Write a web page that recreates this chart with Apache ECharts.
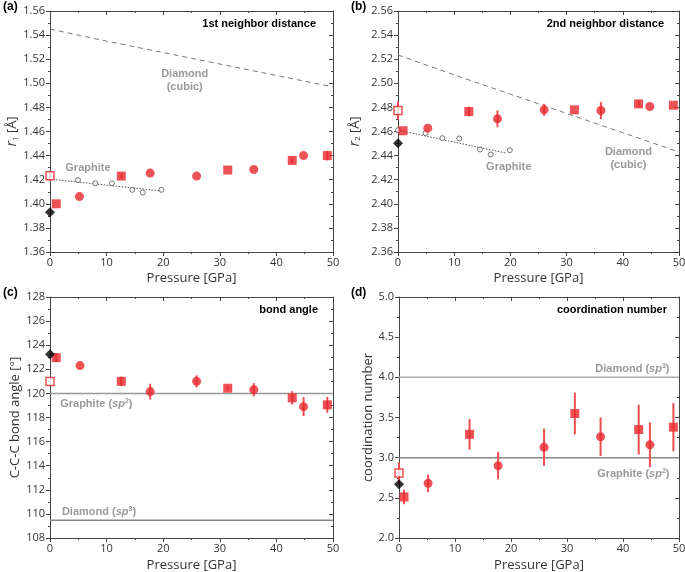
<!DOCTYPE html>
<html>
<head>
<meta charset="utf-8">
<script src="https://cdn.jsdelivr.net/npm/echarts@6/dist/echarts.min.js"></script>
<style>
  html, body { margin: 0; padding: 0; background: #fff; }
  #main { width: 685px; height: 572px; }
</style>
</head>
<body>
<div id="main"></div>
<script>
// ---- data ----
// (a) 1st neighbor distance r1 [A]
var r1Squares = [[1.1, 1.400], [12.6, 1.423], [31.4, 1.428], [42.8, 1.436], [49, 1.440]];
var r1SquaresErr = [0, 0.002, 0, 0.002, 0.004];
var r1Circles = [[5.2, 1.406], [17.7, 1.4255], [25.9, 1.423], [36, 1.4285], [44.8, 1.440]];
var r1CirclesErr = [0, 0, 0, 0, 0];
var r1Open = [[0, 1.4233]];
var r1OpenErr = [0.004];
var r1Diamond = [[0, 1.393]];
var r1Graphite = [[4.95, 1.4197], [8.0, 1.417], [10.95, 1.417], [14.55, 1.4116], [16.4, 1.4094], [19.7, 1.4116]];
var r1GraphiteFit = [[0, 1.4205], [20, 1.4105]];
var r1DiamondLine = [[0, 1.545], [10, 1.535], [20, 1.5255], [30, 1.516], [40, 1.5065], [50, 1.497]];

// (b) 2nd neighbor distance r2 [A]
var r2Squares = [[0.9, 2.4606], [12.6, 2.4766], [31.4, 2.478], [42.8, 2.4829], [49, 2.4818]];
var r2SquaresErr = [0, 0.004, 0, 0.003, 0];
var r2Circles = [[5.3, 2.4628], [17.7, 2.4705], [26, 2.478], [36.1, 2.4774], [44.8, 2.4807]];
var r2CirclesErr = [0, 0.007, 0.005, 0.007, 0];
var r2Open = [[0, 2.4774]];
var r2OpenErr = [0.0075];
var r2Diamond = [[0, 2.4503]];
var r2Graphite = [[0, 2.4611], [4.9, 2.4586], [7.9, 2.4545], [10.9, 2.4542], [14.6, 2.4451], [16.5, 2.4409], [19.9, 2.4445]];
var r2GraphiteFit = [[0, 2.4611], [19.3, 2.442]];
var r2DiamondLine = [[0, 2.5235], [10, 2.507], [20, 2.491], [30, 2.475], [40, 2.459], [50, 2.443]];

// (c) C-C-C bond angle [deg]
var angSquares = [[1.1, 122.97], [12.6, 121.0], [31.4, 120.43], [42.8, 119.63], [49, 119.05]];
var angSquaresErr = [0.37, 0.4, 0.15, 0.55, 0.65];
var angCircles = [[5.3, 122.31], [17.7, 120.15], [25.9, 121.0], [36, 120.3], [44.8, 118.9]];
var angCirclesErr = [0, 0.65, 0.5, 0.55, 0.78];
var angOpen = [[0, 120.98]];
var angOpenErr = [0];
var angDiamond = [[0, 123.25]];
var angGraphiteRef = 120;
var angDiamondRef = 109.47;

// (d) coordination number
var cnSquares = [[0.9, 2.51], [12.6, 3.29], [31.4, 3.55], [42.8, 3.35], [49, 3.38]];
var cnSquaresErr = [0.09, 0.19, 0.26, 0.31, 0.30];
var cnCircles = [[5.2, 2.68], [17.7, 2.90], [25.9, 3.13], [36, 3.26], [44.8, 3.16]];
var cnCirclesErr = [0.11, 0.17, 0.23, 0.24, 0.28];
var cnOpen = [[0, 2.81]];
var cnOpenErr = [0.13];
var cnDiamond = [[0, 2.67]];
var cnDiamondRef = 4.0;
var cnGraphiteRef = 3.0;

var pressureRange = [0, 50, 10];
var yRanges = [[1.36, 1.56, 0.02, 2], [2.36, 2.56, 0.02, 2], [108, 128, 2, 0], [2.0, 5.0, 0.5, 1]];
var panelTitles = ['1st neighbor distance', '2nd neighbor distance', 'bond angle', 'coordination number'];
var panelLetters = ['(a)', '(b)', '(c)', '(d)'];

// ---- styling ----
var RED = '#e8282c';
var ERR = '#ee4c50';
var GREY = '#808080';
var AXIS = '#444';
var TXT = '#333';
var FONT = '"Open Sans", "DejaVu Sans", sans-serif';
var BOLD = '"Liberation Sans", Arial, sans-serif';

var richText = {
  b: { fontFamily: BOLD, fontWeight: 'bold', fontSize: 11, color: GREY, lineHeight: 13 },
  i: { fontFamily: BOLD, fontWeight: 'bold', fontStyle: 'italic', fontSize: 11, color: GREY, lineHeight: 13 },
  sup: { fontFamily: BOLD, fontWeight: 'bold', fontSize: 7, color: GREY, lineHeight: 7, verticalAlign: 'top' }
};

var grids = [
  { left: 50, top: 11, width: 283, height: 241, outerBoundsMode: 'none' },
  { left: 398, top: 11, width: 281, height: 241, outerBoundsMode: 'none' },
  { left: 50, top: 297, width: 283, height: 241, outerBoundsMode: 'none' },
  { left: 399, top: 297, width: 280, height: 241, outerBoundsMode: 'none' }
];
var yNames = [
  '{it|r}{sub|1} [Å]',
  '{it|r}{sub|2} [Å]',
  'C-C-C bond angle [°]',
  'coordination number'
];
var yNameGaps = [29, 36, 27, 24];
var xNameGaps = [20, 20, 21, 21];

var xAxes = [], yAxes = [], series = [];

grids.forEach(function (g, i) {
  var yr = yRanges[i];
  xAxes.push({
    type: 'value', gridIndex: i, min: pressureRange[0], max: pressureRange[1], interval: pressureRange[2],
    name: 'Pressure [GPa]', nameLocation: 'middle', nameGap: xNameGaps[i],
    nameTextStyle: { fontFamily: FONT, fontSize: 13, color: TXT },
    axisLine: { onZero: false, lineStyle: { color: AXIS, width: 1 } },
    axisTick: { length: 4, lineStyle: { color: AXIS } },
    minorTick: { show: true, splitNumber: 2, length: 2, lineStyle: { color: AXIS } },
    splitLine: { show: false },
    axisLabel: { fontFamily: FONT, fontSize: 11, color: TXT, margin: 5 }
  });
  xAxes.push({
    type: 'value', gridIndex: i, position: 'top', min: pressureRange[0], max: pressureRange[1], interval: pressureRange[2],
    axisLine: { onZero: false, lineStyle: { color: AXIS, width: 1 } },
    axisTick: { inside: true, length: 4, lineStyle: { color: AXIS } },
    minorTick: { show: true, splitNumber: 2, length: 2, lineStyle: { color: AXIS } },
    splitLine: { show: false }, axisLabel: { show: false }
  });
  yAxes.push({
    type: 'value', gridIndex: i, min: yr[0], max: yr[1], interval: yr[2],
    name: yNames[i], nameLocation: 'middle', nameGap: yNameGaps[i],
    nameTextStyle: {
      fontFamily: FONT, fontSize: 13, color: TXT,
      rich: {
        it: { fontFamily: FONT, fontSize: 14, fontStyle: 'italic', color: TXT },
        sub: { fontFamily: FONT, fontSize: 8, color: TXT, verticalAlign: 'bottom', lineHeight: 9 }
      }
    },
    axisLine: { onZero: false, lineStyle: { color: AXIS, width: 1 } },
    axisTick: { length: 4, lineStyle: { color: AXIS } },
    minorTick: { show: true, splitNumber: 2, length: 2, lineStyle: { color: AXIS } },
    splitLine: { show: false },
    axisLabel: {
      fontFamily: FONT, fontSize: 11, color: TXT, margin: 5,
      formatter: (function (d) { return function (v) { return v.toFixed(d); }; })(yr[3])
    }
  });
  yAxes.push({
    type: 'value', gridIndex: i, position: 'right', min: yr[0], max: yr[1], interval: yr[2],
    axisLine: { onZero: false, lineStyle: { color: AXIS, width: 1 } },
    axisTick: { inside: true, length: 4, lineStyle: { color: AXIS } },
    minorTick: { show: true, splitNumber: 2, length: 2, lineStyle: { color: AXIS } },
    splitLine: { show: false }, axisLabel: { show: false }
  });
});

function withErr(points, errs) {
  return points.map(function (p, k) { return [p[0], p[1] - errs[k], p[1] + errs[k]]; })
    .filter(function (p) { return p[2] > p[1]; });
}

function errSeries(i, data) {
  return {
    type: 'custom', xAxisIndex: 2 * i, yAxisIndex: 2 * i, z: 3, silent: true,
    encode: { x: 0, y: [1, 2] },
    renderItem: function (params, api) {
      var x = api.value(0);
      var lo = api.coord([x, api.value(1)]);
      var hi = api.coord([x, api.value(2)]);
      return { type: 'line', shape: { x1: lo[0], y1: lo[1], x2: hi[0], y2: hi[1] }, style: { stroke: ERR, lineWidth: 2 } };
    },
    data: data
  };
}

function scatter(i, data, symbol, size, style, z) {
  return {
    type: 'scatter', xAxisIndex: 2 * i, yAxisIndex: 2 * i, symbol: symbol, symbolSize: size,
    itemStyle: style, z: z, silent: true, data: data
  };
}

function refLine(i, data, type, color, width) {
  return {
    type: 'line', xAxisIndex: 2 * i, yAxisIndex: 2 * i, symbol: 'none', silent: true, z: 1,
    lineStyle: { type: type, color: color, width: width }, data: data
  };
}

function hLine(i, v, color) {
  return refLine(i, [[pressureRange[0], v], [pressureRange[1], v]], 'solid', color, 1.5);
}

function note(i, x, y, text, align) {
  return {
    type: 'scatter', xAxisIndex: 2 * i, yAxisIndex: 2 * i, symbolSize: 0, silent: true, z: 2,
    itemStyle: { color: 'transparent' },
    label: {
      show: true, position: 'inside', align: align, verticalAlign: 'middle',
      formatter: text, rich: richText, lineHeight: 13
    },
    data: [[x, y]]
  };
}

function markers(i, sq, sqErr, ci, ciErr, open, openErr, dia) {
  series.push(errSeries(i, withErr(open, openErr)));
  series.push(errSeries(i, withErr(sq, sqErr)));
  series.push(errSeries(i, withErr(ci, ciErr)));
  series.push(scatter(i, sq, 'rect', 9, { color: RED }, 4));
  series.push(scatter(i, ci, 'circle', 9, { color: RED }, 4));
  series.push(scatter(i, open, 'rect', 8, { color: '#fff', borderColor: RED, borderWidth: 1.5 }, 5));
  series.push(scatter(i, dia, 'diamond', 10, { color: '#000' }, 6));
}

// (a)
series.push(refLine(0, r1DiamondLine, [5, 4], '#777', 1));
series.push(refLine(0, r1GraphiteFit, [1.5, 1.5], '#555', 1));
series.push(scatter(0, r1Graphite, 'circle', 5, { color: '#fff', borderColor: '#555', borderWidth: 1 }, 2));
series.push(note(0, 23.8, 1.5023, '{b|Diamond}\n{b|(cubic)}', 'center'));
series.push(note(0, 6.7, 1.4297, '{b|Graphite}', 'center'));
markers(0, r1Squares, r1SquaresErr, r1Circles, r1CirclesErr, r1Open, r1OpenErr, r1Diamond);

// (b)
series.push(refLine(1, r2DiamondLine, [5, 4], '#777', 1));
series.push(refLine(1, r2GraphiteFit, [1.5, 1.5], '#555', 1));
series.push(scatter(1, r2Graphite, 'circle', 5, { color: '#fff', borderColor: '#555', borderWidth: 1 }, 2));
series.push(note(1, 19.7, 2.4302, '{b|Graphite}', 'center'));
series.push(note(1, 41.0, 2.438, '{b|Diamond}\n{b|(cubic)}', 'center'));
markers(1, r2Squares, r2SquaresErr, r2Circles, r2CirclesErr, r2Open, r2OpenErr, r2Diamond);

// (c)
series.push(hLine(2, angGraphiteRef, '#999'));
series.push(hLine(2, angDiamondRef, '#888'));
series.push(note(2, 1.8, 119.13, '{b|Graphite (}{i|sp}{sup|2}{b|)}', 'left'));
series.push(note(2, 2.1, 110.15, '{b|Diamond (}{i|sp}{sup|3}{b|)}', 'left'));
markers(2, angSquares, angSquaresErr, angCircles, angCirclesErr, angOpen, angOpenErr, angDiamond);

// (d)
series.push(hLine(3, cnDiamondRef, '#aaa'));
series.push(hLine(3, cnGraphiteRef, '#888'));
series.push(note(3, 48.3, 4.105, '{b|Diamond (}{i|sp}{sup|3}{b|)}', 'right'));
series.push(note(3, 48.3, 2.80, '{b|Graphite (}{i|sp}{sup|2}{b|)}', 'right'));
markers(3, cnSquares, cnSquaresErr, cnCircles, cnCirclesErr, cnOpen, cnOpenErr, cnDiamond);

var titles = [];
var titleRight = [369, 21, 367, 18];
var titleTop = [18, 18, 304, 304];
panelTitles.forEach(function (t, i) {
  titles.push({
    text: t, right: titleRight[i], top: titleTop[i], padding: 0,
    textStyle: { fontFamily: BOLD, fontWeight: 'bold', fontSize: 11, color: '#000' }
  });
});
var letterPos = [[3, 1], [351, 1], [3, 287], [351, 287]];
panelLetters.forEach(function (t, i) {
  titles.push({
    text: t, left: letterPos[i][0], top: letterPos[i][1], padding: 0,
    textStyle: { fontFamily: BOLD, fontWeight: 'bold', fontSize: 12, color: '#000' }
  });
});

var myChart = echarts.init(document.getElementById('main'));
myChart.setOption({
  backgroundColor: '#fff',
  animation: false,
  title: titles,
  grid: grids,
  xAxis: xAxes,
  yAxis: yAxes,
  series: series
});
</script>
</body>
</html>
